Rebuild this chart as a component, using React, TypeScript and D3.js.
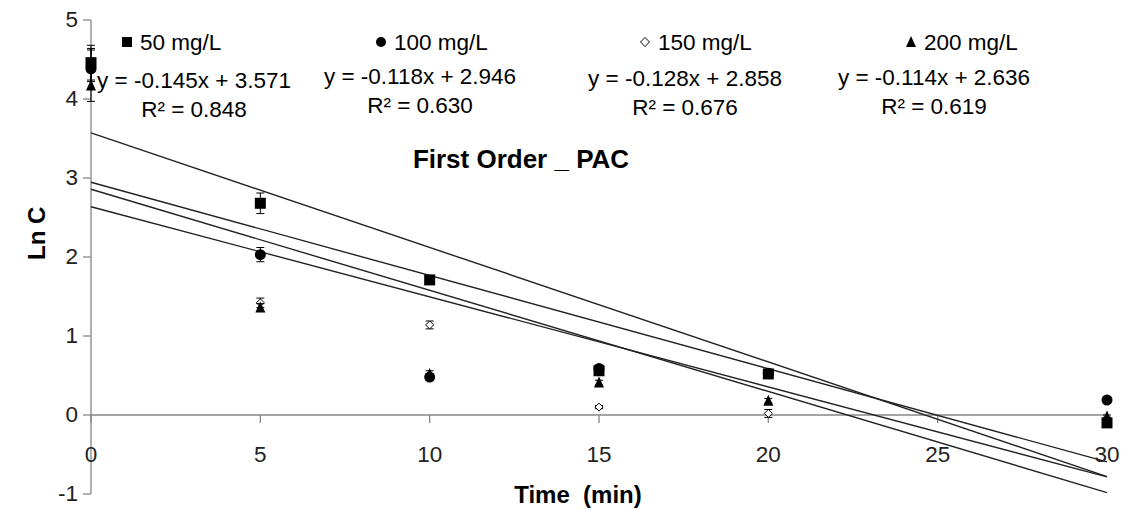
import React from 'react';
import * as d3 from 'd3';

// time points (min)
const times = [0, 5, 10, 15, 20, 30];

// Ln C values per dose
const s50 = [4.46, 2.68, 1.71, 0.56, 0.52, -0.1];
const s100 = [4.38, 2.03, 0.48, 0.59, 0.53, 0.19];
const s150 = [4.42, 1.42, 1.14, 0.1, 0.02, -0.05];
const s200 = [4.17, 1.36, 0.52, 0.41, 0.18, -0.02];

const err50 = [0.22, 0.13, 0.05, 0.04, 0.03, 0.02];
const err100 = [0.26, 0.09, 0.04, 0.03, 0.02, 0.02];
const err150 = [0.2, 0.06, 0.05, 0.02, 0.05, 0.02];
const err200 = [0.2, 0.05, 0.04, 0.03, 0.03, 0.02];

const labels = ['50 mg/L', '100 mg/L', '150 mg/L', '200 mg/L'];
const slopes = [-0.145, -0.118, -0.128, -0.114];
const intercepts = [3.571, 2.946, 2.858, 2.636];
const r2 = ['0.848', '0.630', '0.676', '0.619'];

const xTicks = [0, 5, 10, 15, 20, 25, 30];
const yTicks = [-1, 0, 1, 2, 3, 4, 5];

const width = 1124;
const height = 510;
const margin = { top: 20, right: 17, bottom: 16, left: 91 };
const font = "'Liberation Sans', Arial, sans-serif";
const fs = 22.5;

const x = d3.scaleLinear().domain([0, 30]).range([margin.left, width - margin.right]);
const y = d3.scaleLinear().domain([-1, 5]).range([height - margin.bottom, margin.top]);

type Shape = 'square' | 'circle' | 'diamond' | 'triangle';

const Marker = ({ shape, cx, cy, size }: { shape: Shape; cx: number; cy: number; size: number }) => {
  const h = size / 2;
  if (shape === 'square') return <rect x={cx - h} y={cy - h} width={size} height={size} fill="#000" />;
  if (shape === 'circle') return <circle cx={cx} cy={cy} r={h} fill="#000" />;
  if (shape === 'diamond')
    return (
      <path
        d={`M${cx},${cy - h}L${cx + h},${cy}L${cx},${cy + h}L${cx - h},${cy}Z`}
        fill="#fff"
        stroke="#000"
        strokeWidth={1}
      />
    );
  return <path d={`M${cx},${cy - h - 1}L${cx + h},${cy + h}L${cx - h},${cy + h}Z`} fill="#000" />;
};

const series = [
  { values: s50, errs: err50, shape: 'square' as Shape, size: 11 },
  { values: s100, errs: err100, shape: 'circle' as Shape, size: 11 },
  { values: s150, errs: err150, shape: 'diamond' as Shape, size: 8 },
  { values: s200, errs: err200, shape: 'triangle' as Shape, size: 10 },
];
// the hollow diamonds sit underneath the filled markers
const drawOrder = [2, 0, 1, 3];

// where Excel put the legend entries and the trendline labels
const legendX = [127, 381, 645, 911];
const eqX = [194, 420, 685, 934];
const eqY = [88, 84, 86, 85];

export default function App() {
  return (
    <svg width={width} height={height} style={{ position: 'absolute', left: 0, top: 0, background: '#fff' }}>
      {/* y axis */}
      <line x1={x(0)} x2={x(0)} y1={y(5)} y2={y(-1)} stroke="#868686" strokeWidth={1.3} />
      {yTicks.map((t) => (
        <g key={t}>
          <line x1={x(0) - 8} x2={x(0)} y1={y(t)} y2={y(t)} stroke="#868686" strokeWidth={1.3} />
          <text x={78} y={y(t) + 7} textAnchor="end" fontFamily={font} fontSize={fs} fill="#222">
            {t}
          </text>
        </g>
      ))}
      {/* x axis at y = 0 */}
      <line x1={x(0)} x2={x(30)} y1={y(0)} y2={y(0)} stroke="#868686" strokeWidth={1.3} />
      {xTicks.map((t) => (
        <g key={t}>
          <line x1={x(t)} x2={x(t)} y1={y(0)} y2={y(0) + 8} stroke="#868686" strokeWidth={1.3} />
          <text x={x(t)} y={y(0) + 47} textAnchor="middle" fontFamily={font} fontSize={fs} fill="#222">
            {t}
          </text>
        </g>
      ))}

      {/* trend lines */}
      {slopes.map((m, i) => (
        <line
          key={i}
          x1={x(0)}
          x2={x(30)}
          y1={y(intercepts[i])}
          y2={y(intercepts[i] + m * 30)}
          stroke="#222"
          strokeWidth={1.4}
        />
      ))}

      {/* error bars + markers */}
      {drawOrder.map((si) => {
        const s = series[si];
        return (
          <g key={si}>
            {s.values.map((v, i) => (
              <g key={i}>
                <line x1={x(times[i])} x2={x(times[i])} y1={y(v + s.errs[i])} y2={y(v - s.errs[i])} stroke="#000" strokeWidth={1} />
                <line x1={x(times[i]) - 4} x2={x(times[i]) + 4} y1={y(v + s.errs[i])} y2={y(v + s.errs[i])} stroke="#000" strokeWidth={1} />
                <line x1={x(times[i]) - 4} x2={x(times[i]) + 4} y1={y(v - s.errs[i])} y2={y(v - s.errs[i])} stroke="#000" strokeWidth={1} />
                <Marker shape={s.shape} cx={x(times[i])} cy={y(v)} size={s.size} />
              </g>
            ))}
          </g>
        );
      })}

      {/* legend */}
      {labels.map((l, i) => (
        <g key={l}>
          <Marker shape={series[i].shape} cx={legendX[i]} cy={42} size={series[i].shape === 'diamond' ? 9 : 10} />
          <text x={legendX[i] + 13} y={50} fontFamily={font} fontSize={fs} fill="#000">
            {l}
          </text>
        </g>
      ))}

      {/* equations */}
      {slopes.map((m, i) => (
        <g key={i} fontFamily={font} fontSize={fs} fill="#000" textAnchor="middle">
          <text x={eqX[i]} y={eqY[i]}>{`y = ${m.toFixed(3)}x + ${intercepts[i].toFixed(3)}`}</text>
          <text x={eqX[i]} y={eqY[i] + 29}>{`R² = ${r2[i]}`}</text>
        </g>
      ))}

      {/* title */}
      <text x={521} y={168} textAnchor="middle" fontFamily={font} fontSize={26} fontWeight="bold" fill="#000">
        First Order _ PAC
      </text>

      {/* axis titles */}
      <text
        transform={`translate(45,${y(2.3)}) rotate(-90)`}
        textAnchor="middle"
        fontFamily={font}
        fontSize={24}
        fontWeight="bold"
        fill="#000"
      >
        Ln C
      </text>
      <text x={578} y={503} textAnchor="middle" fontFamily={font} fontSize={24} fontWeight="bold" fill="#000" style={{ whiteSpace: 'pre' }}>
        Time  (min)
      </text>
    </svg>
  );
}
